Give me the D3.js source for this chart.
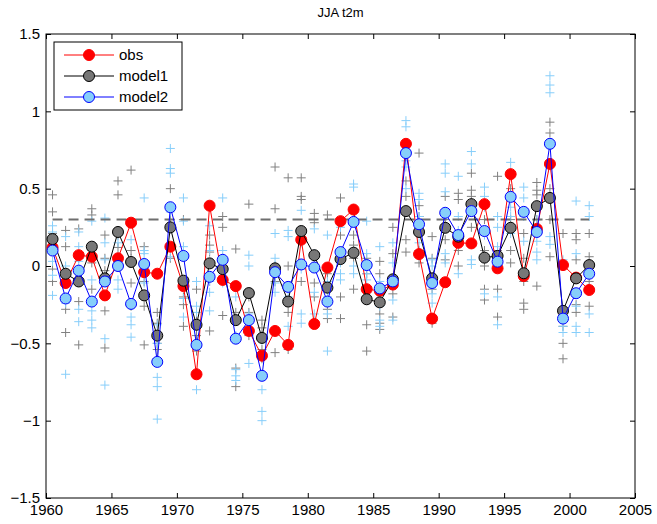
<!DOCTYPE html>
<html>
<head>
<meta charset="utf-8">
<script src="https://cdn.jsdelivr.net/npm/d3@7"></script>
<style>
  body { margin: 0; background: #fff; }
  text { font-family: "Liberation Sans", Arial, sans-serif; }
</style>
</head>
<body>
<div id="chart"></div>
<script>
// JJA season years (plotted at mid-year)
var years = [1960,1961,1962,1963,1964,1965,1966,1967,1968,1969,
             1970,1971,1972,1973,1974,1975,1976,1977,1978,1979,
             1980,1981,1982,1983,1984,1985,1986,1987,1988,1989,
             1990,1991,1992,1993,1994,1995,1996,1997,1998,1999,
             2000,2001];

var obs = [0.12,-0.11,0.07,0.06,-0.19,0.05,0.28,-0.04,-0.05,0.125,
           -0.13,-0.70,0.39,-0.09,-0.13,-0.42,-0.58,-0.42,-0.51,0.17,
           -0.375,-0.01,0.29,0.365,-0.15,-0.16,-0.12,0.79,0.077,-0.34,
           -0.105,0.15,0.146,0.40,-0.015,0.594,-0.065,0.24,0.66,0.006,
           -0.075,-0.155];

var model1 = [0.174,-0.05,-0.10,0.125,-0.08,0.22,0.026,-0.19,-0.45,0.25,
              -0.095,-0.38,0.017,-0.02,-0.35,-0.175,-0.465,-0.015,-0.23,0.226,
              0.07,-0.14,0.045,0.086,-0.215,-0.235,-0.086,0.355,0.22,-0.08,
              0.247,0.19,0.40,0.054,0.065,0.247,-0.047,0.387,0.44,-0.29,
              -0.08,0.006];

var model2 = [0.10,-0.21,-0.03,-0.23,-0.10,0.00,-0.245,0.013,-0.62,0.38,
              0.065,-0.51,-0.07,0.04,-0.47,-0.35,-0.71,-0.04,-0.135,0.01,
              -0.01,-0.23,0.09,0.285,0.006,-0.145,-0.10,0.73,0.27,-0.11,
              0.344,0.20,0.355,0.226,0.028,0.447,0.35,0.22,0.79,-0.34,
              -0.176,-0.05];

// ensemble members, one list per year
var members1 = [
  [0.46,0.35,0.21,-0.02,-0.10],[0.23,0.125,-0.12,-0.28,-0.43],[0.24,-0.08,-0.23,-0.51,0.05],
  [0.37,0.33,0.02,-0.15,0.10],[0.20,-0.03,-0.29,-0.53,0.05],[0.55,0.46,0.00,0.20,0.12],
  [0.62,-0.11,-0.26,0.10,0.05],[0.125,-0.20,-0.26,-0.51,-0.10],[-0.37,-0.50,-0.54,-0.30,-0.60],
  [0.50,0.24,0.125,0.30,0.05],[0.30,0.06,-0.39,-0.20,-0.25],[-0.15,-0.35,-0.45,-0.55,-0.40],
  [0.135,0.09,-0.42,-0.10,0.20],[0.32,0.25,-0.03,-0.32,0.05],[0.11,-0.14,-0.66,-0.78,-0.30],
  [0.40,-0.17,-0.30,-0.45,-0.20],[-0.35,-0.54,-0.40,-0.60,-0.45],[0.64,0.37,-0.56,0.00,-0.10],
  [0.57,0.00,-0.24,-0.54,-0.30],[0.57,0.45,0.43,0.16,-0.10],[0.34,0.28,-0.11,0.05,-0.20],
  [0.33,-0.28,-0.34,-0.05,-0.15],[0.44,-0.20,-0.34,0.10,0.20],[0.135,-0.15,0.30,0.05,0.20],
  [-0.38,-0.55,-0.20,-0.05,0.05],[0.03,-0.05,-0.31,-0.37,-0.41],[0.25,0.08,-0.18,-0.33,-0.10],
  [0.55,0.45,0.17,0.09,0.35],[0.73,0.39,0.32,0.02,0.10],[0.19,-0.37,-0.07,-0.15,0.05],
  [0.04,0.17,0.30,0.45,0.25],[0.47,0.43,0.00,0.20,0.10],[0.60,0.49,0.25,0.35,0.45],
  [0.00,-0.15,-0.22,0.30,0.10],[0.58,-0.15,-0.33,0.10,0.00],[0.10,0.02,0.30,0.50,0.25],
  [-0.24,-0.28,0.21,0.05,-0.10],[0.54,0.49,0.46,-0.13,0.30],[0.93,0.86,0.06,0.30,0.50],
  [-0.50,-0.60,-0.39,0.21,-0.30],[0.21,0.17,0.04,-0.25,-0.30],[0.21,0.06,-0.26,0.00,-0.10]
];

var members2 = [
  [0.26,0.22,0.03,-0.06,-0.19],[0.19,0.00,-0.11,-0.24,-0.70],[0.22,0.125,0.03,-0.28,-0.36],
  [0.29,-0.09,-0.29,-0.35,-0.40],[0.31,0.15,0.04,-0.47,-0.77],[0.15,0.06,-0.09,-0.15,0.00],
  [0.17,0.03,-0.33,-0.38,-0.46],[0.44,0.08,-0.03,-0.11,0.10],[-0.38,-0.50,-0.72,-0.78,-0.99],
  [0.76,0.63,0.60,0.35,0.06],[0.44,0.29,0.125,-0.21,-0.33],[-0.10,-0.26,-0.30,-0.69,-0.80],
  [0.26,0.10,-0.17,-0.29,-0.10],[0.44,0.03,-0.06,-0.11,0.10],[-0.20,-0.45,-0.67,-0.71,-0.74],
  [0.07,0.00,-0.31,-0.41,-0.63],[-0.48,-0.70,-0.80,-0.94,-1.00],[0.21,0.05,-0.11,-0.17,-0.05],
  [0.23,0.19,-0.13,-0.39,-0.20],[0.36,0.15,-0.02,-0.31,-0.37],[0.24,0.08,-0.17,-0.31,0.00],
  [0.20,-0.31,-0.55,-0.20,-0.10],[0.10,0.02,-0.05,-0.09,0.25],[0.53,0.51,0.30,0.00,-0.05],
  [0.29,0.08,-0.05,-0.09,0.00],[0.125,-0.26,-0.35,-0.39,-0.10],[0.15,0.02,-0.22,-0.35,-0.10],
  [0.94,0.90,0.68,0.64,0.50],[0.47,0.43,0.32,0.21,0.15],[0.04,0.00,-0.18,-0.24,-0.10],
  [0.66,0.60,0.48,0.08,0.02],[0.58,0.32,0.23,-0.05,0.15],[0.74,0.66,0.04,0.01,0.40],
  [0.51,0.45,0.38,-0.18,0.20],[0.32,0.25,0.125,-0.20,-0.38],[0.67,0.61,0.38,0.32,0.21],
  [0.51,0.44,0.32,0.16,0.35],[0.16,0.09,0.04,0.30,0.25],[1.23,1.17,1.12,0.19,0.14],
  [-0.35,-0.39,-0.43,0.04,-0.30],[0.42,-0.26,-0.39,-0.43,0.08],[0.39,0.32,-0.31,-0.43,0.00]
];

var threshold = 0.3;
var xTicks = [1960,1965,1970,1975,1980,1985,1990,1995,2000,2005];
var yTicks = [-1.5,-1,-0.5,0,0.5,1,1.5];

var width = 657, height = 524,
    margin = {top: 34, right: 22, bottom: 26, left: 46};
var w = width - margin.left - margin.right,
    h = height - margin.top - margin.bottom;

var svg = d3.select("#chart").append("svg")
  .attr("width", width)
  .attr("height", height);

var g = svg.append("g")
  .attr("transform", "translate(" + margin.left + "," + margin.top + ")");

var x = d3.scaleLinear().domain([1960, 2005]).range([0, w]);
var y = d3.scaleLinear().domain([-1.5, 1.5]).range([h, 0]);

var fmt = function(d) { return String(d).replace("-", "\u2212"); };

// axes, ticks pointing inwards like matlab
g.append("g")
  .attr("transform", "translate(0," + h + ")")
  .call(d3.axisBottom(x).tickValues(xTicks).tickFormat(d3.format("d")).tickSizeInner(-5).tickSizeOuter(0).tickPadding(6));
g.append("g")
  .call(d3.axisTop(x).tickValues(xTicks).tickFormat("").tickSizeInner(-5).tickSizeOuter(0));
g.append("g")
  .call(d3.axisLeft(y).tickValues(yTicks).tickFormat(fmt).tickSizeInner(-5).tickSizeOuter(0).tickPadding(6));
g.append("g")
  .attr("transform", "translate(" + w + ",0)")
  .call(d3.axisRight(y).tickValues(yTicks).tickFormat("").tickSizeInner(-5).tickSizeOuter(0));

g.selectAll(".domain").remove();
g.selectAll(".tick line").attr("stroke", "#000");
g.selectAll(".tick text").style("font-size", "15px").attr("fill", "#000");

g.append("rect")
  .attr("width", w).attr("height", h)
  .attr("fill", "none").attr("stroke", "#000").attr("stroke-width", 1);

// title
svg.append("text")
  .attr("x", margin.left + w / 2)
  .attr("y", 17)
  .attr("text-anchor", "middle")
  .style("font-size", "13px")
  .text("JJA t2m");

var xm = function(i) { return x(years[i] + 0.5); };

// ensemble crosses
function crosses(members, colour) {
  var pts = [];
  members.forEach(function(list, i) {
    list.forEach(function(v) { pts.push({i: i, v: v}); });
  });
  g.append("g").selectAll("path")
    .data(pts).enter().append("path")
    .attr("d", function(d) {
      var cx = xm(d.i), cy = y(d.v), s = 4.5;
      return "M" + (cx - s) + "," + cy + "H" + (cx + s) + "M" + cx + "," + (cy - s) + "V" + (cy + s);
    })
    .attr("stroke", colour)
    .attr("stroke-width", 1)
    .attr("fill", "none");
}
crosses(members1, "#808080");
crosses(members2, "#87cefa");

// dashed reference line
g.append("line")
  .attr("x1", xm(0)).attr("x2", xm(years.length - 1))
  .attr("y1", y(threshold)).attr("y2", y(threshold))
  .attr("stroke", "#6e6e6e")
  .attr("stroke-width", 2)
  .attr("stroke-dasharray", "10,6");

var series = [
  {name: "obs", values: obs, line: "#ff0000", fill: "#ff0000", edge: "#ff0000"},
  {name: "model1", values: model1, line: "#000000", fill: "#777777", edge: "#000000"},
  {name: "model2", values: model2, line: "#0000ff", fill: "#87cefa", edge: "#0000ff"}
];

var line = d3.line()
  .x(function(d, i) { return xm(i); })
  .y(function(d) { return y(d); });

series.forEach(function(s) {
  g.append("path")
    .datum(s.values)
    .attr("d", line)
    .attr("fill", "none")
    .attr("stroke", s.line)
    .attr("stroke-width", 1);
  g.append("g").selectAll("circle")
    .data(s.values).enter().append("circle")
    .attr("cx", function(d, i) { return xm(i); })
    .attr("cy", function(d) { return y(d); })
    .attr("r", 5.5)
    .attr("fill", s.fill)
    .attr("stroke", s.edge)
    .attr("stroke-width", 1);
});

// legend
var lg = svg.append("g").attr("transform", "translate(54,42)");
lg.append("rect")
  .attr("width", 128).attr("height", 68)
  .attr("fill", "#fff").attr("stroke", "#000").attr("stroke-width", 1);
series.forEach(function(s, k) {
  var ly = 13 + k * 21;
  lg.append("line")
    .attr("x1", 10).attr("x2", 60).attr("y1", ly).attr("y2", ly)
    .attr("stroke", s.line).attr("stroke-width", 1);
  lg.append("circle")
    .attr("cx", 35).attr("cy", ly).attr("r", 5.5)
    .attr("fill", s.fill).attr("stroke", s.edge);
  lg.append("text")
    .attr("x", 65).attr("y", ly + 5)
    .style("font-size", "15px")
    .text(s.name);
});
</script>
</body>
</html>
